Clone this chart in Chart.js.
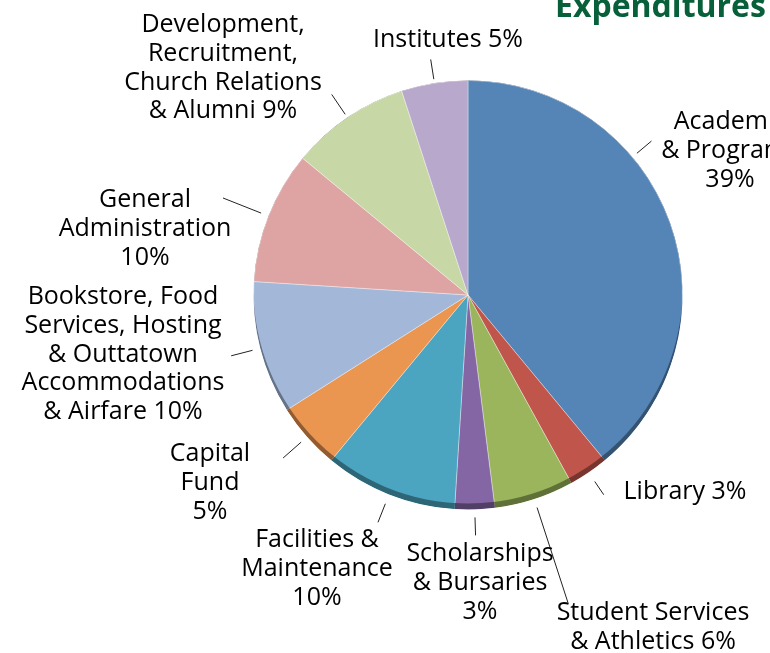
<!DOCTYPE html>
<html>
<head>
<meta charset="utf-8">
<script src="https://cdn.jsdelivr.net/npm/chart.js@4.4.0/dist/chart.umd.min.js"></script>
<style>
	html, body { margin: 0; padding: 0; background: #fff; }
	canvas { display: block; }
</style>
</head>
<body>
<canvas id="chart" width="770" height="653"></canvas>
<script>
'use strict';

// Slices, clockwise from 12 o'clock
const categories = [
	'Academic\n& Programs',
	'Library',
	'Student Services\n& Athletics',
	'Scholarships\n& Bursaries',
	'Facilities &\nMaintenance',
	'Capital\nFund',
	'Bookstore, Food\nServices, Hosting\n& Outtatown\nAccommodations\n& Airfare',
	'General\nAdministration',
	'Development,\nRecruitment,\nChurch Relations\n& Alumni',
	'Institutes',
];
const shares = [ 39, 3, 6, 3, 10, 5, 10, 10, 9, 5 ];

const sliceColors = [
	'#5584b6', '#c0554c', '#9bb55c', '#8466a4', '#4ba5c0',
	'#ea9550', '#a3b8d9', '#dea4a3', '#c7d8a6', '#b8a8cb',
];

// label placement: text centre x, first line y, leader line gap/length (px), optional angle (deg)
const calloutLayout = [
	{ x: 730, y: 122, pctNewLine: true, gap: 6, len: 19, angle: -40 },
	{ x: 685, y: 492, pctNewLine: false, gap: 11, len: 16 },
	{ x: 653, y: 613, pctNewLine: false, gap: 9, len: 100 },
	{ x: 480, y: 554, pctNewLine: true, gap: 8, len: 18 },
	{ x: 317, y: 540, pctNewLine: true, gap: 10, len: 20 },
	{ x: 210, y: 454, pctNewLine: true, gap: 8, len: 24 },
	{ x: 123, y: 297, pctNewLine: false, gap: 8, len: 22 },
	{ x: 145, y: 200, pctNewLine: true, gap: 8, len: 41 },
	{ x: 223, y: 25, pctNewLine: false, gap: 4, len: 24 },
	{ x: 448, y: 40, pctNewLine: false, gap: 4, len: 20 },
];

const LABEL_FONT = '25px "Open Sans", sans-serif';
const LINE_HEIGHT = 28.7;

function shade( hex, f ) {
	const n = parseInt( hex.slice( 1 ), 16 );
	const r = Math.round( ( n >> 16 & 255 ) * f );
	const g = Math.round( ( n >> 8 & 255 ) * f );
	const b = Math.round( ( n & 255 ) * f );
	return 'rgb(' + r + ',' + g + ',' + b + ')';
}

const pieDecor = {
	id: 'pieDecor',
	afterDatasetsDraw: function ( chart ) {
		const ctx = chart.ctx;
		const arcs = chart.getDatasetMeta( 0 ).data;

		// darker rim along the lower edge, like a slightly tilted 3D pie
		arcs.forEach( ( arc, i ) => {
			const p = arc.getProps( [ 'x', 'y', 'startAngle', 'endAngle', 'outerRadius' ], true );
			ctx.save();
			ctx.beginPath();
			ctx.moveTo( p.x, p.y );
			ctx.arc( p.x, p.y, p.outerRadius, p.startAngle, p.endAngle );
			ctx.closePath();
			ctx.clip();
			ctx.beginPath();
			ctx.arc( p.x, p.y, p.outerRadius, 0, Math.PI * 2 );
			ctx.arc( p.x, p.y - 6, p.outerRadius, 0, Math.PI * 2 );
			ctx.fillStyle = shade( sliceColors[ i ], 0.62 );
			ctx.fill( 'evenodd' );
			ctx.restore();
		} );

		// labels and leader lines
		ctx.save();
		ctx.font = LABEL_FONT;
		ctx.fillStyle = '#000';
		ctx.strokeStyle = '#222';
		ctx.lineWidth = 1;
		ctx.textAlign = 'center';
		ctx.textBaseline = 'middle';

		arcs.forEach( ( arc, i ) => {
			const p = arc.getProps( [ 'x', 'y', 'startAngle', 'endAngle', 'outerRadius' ], true );
			const c = calloutLayout[ i ];
			const a = c.angle !== undefined ? c.angle * Math.PI / 180 : ( p.startAngle + p.endAngle ) / 2;
			const r0 = p.outerRadius + c.gap;
			const r1 = r0 + c.len;

			ctx.beginPath();
			ctx.moveTo( p.x + Math.cos( a ) * r0, p.y + Math.sin( a ) * r0 );
			ctx.lineTo( p.x + Math.cos( a ) * r1, p.y + Math.sin( a ) * r1 );
			ctx.stroke();

			const lines = categories[ i ].split( '\n' );
			const pct = shares[ i ] + '%';
			if ( c.pctNewLine ) {
				lines.push( pct );
			} else {
				lines[ lines.length - 1 ] += ' ' + pct;
			}
			lines.forEach( ( line, k ) => {
				ctx.fillText( line, c.x, c.y + k * LINE_HEIGHT );
			} );
		} );
		ctx.restore();

		// title, running off the right edge as in the source
		ctx.save();
		ctx.font = 'bold 32px "Open Sans", sans-serif';
		ctx.fillStyle = '#07603a';
		ctx.textAlign = 'left';
		ctx.textBaseline = 'alphabetic';
		ctx.fillText( 'Expenditures', 555, 17 );
		ctx.restore();
	},
};

window.addEventListener( 'DOMContentLoaded', function () {
	const element = document.getElementById( 'chart' );

	element.chart = new Chart( element, {
		type: 'pie',
		data: {
			labels: categories.map( ( c ) => c.replace( /\n/g, ' ' ) ),
			datasets: [
				{
					data: shares,
					backgroundColor: sliceColors,
					borderColor: 'rgba(255, 255, 255, 0.35)',
					borderWidth: 1,
				},
			],
		},
		options: {
			responsive: false,
			animation: false,
			devicePixelRatio: 1,
			layout: {
				padding: { left: 253, right: 87, top: 80, bottom: 143 },
			},
			plugins: {
				legend: { display: false },
				tooltip: { enabled: false },
				title: { display: false },
			},
		},
		plugins: [ pieDecor ],
	} );
} );
</script>
</body>
</html>
